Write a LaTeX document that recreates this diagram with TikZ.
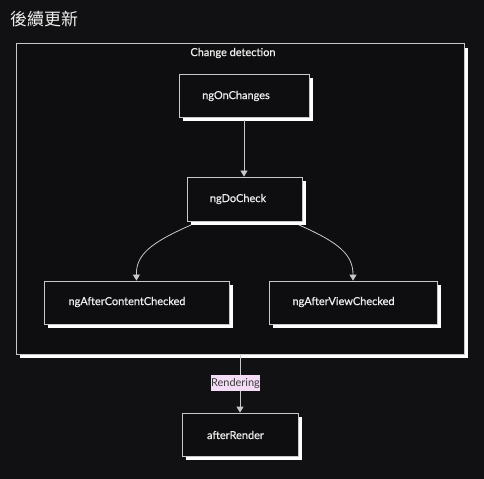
\documentclass[tikz,border=0pt]{standalone}
\usepackage{fontspec}
\setmainfont{Lato}
\newfontfamily\lblfont[FakeBold=0.6]{Lato}
\newfontfamily\cjkfont{Noto Sans CJK TC}
\usetikzlibrary{arrows.meta,shadows}
\definecolor{bgc}{RGB}{17,17,19}
\definecolor{boxfill}{RGB}{14,14,16}
\definecolor{edgec}{RGB}{200,200,200}
\definecolor{txt}{RGB}{238,238,238}
\definecolor{lblfill}{RGB}{244,220,247}
\definecolor{lbltxt}{RGB}{60,60,60}
\tikzset{
  box/.style={draw=edgec, line width=0.8bp, fill=boxfill, inner sep=0pt,
    drop shadow={shadow xshift=4bp, shadow yshift=-4bp, fill=white, opacity=1}},
  lbl/.style={text=txt, font=\lblfont\fontsize{11}{13}\selectfont, inner sep=0pt},
  conn/.style={draw=edgec, line width=0.8bp, -{Triangle[width=7bp,length=6bp]}},
}
\begin{document}
\begin{tikzpicture}[x=1bp,y=-1bp]
\fill[bgc] (0,0) rectangle (484,479);
\useasboundingbox (0,0) rectangle (484,479);
\node[text=txt, font=\cjkfont\fontsize{17}{20}\selectfont, anchor=west, inner sep=0pt] (title) at (10,19) {後續更新};
% cluster
\fill[white] (20,48) rectangle (468,358);
\draw[edgec, line width=1bp, fill=boxfill] (16,44) rectangle (464,354);
\node[lbl] (clbl) at (233,53) {Change detection};
% nodes
\node[box, minimum width=130bp, minimum height=43bp] (onc) at (244,95.5) {};
\node[lbl] at (236,96) {ngOnChanges};
\node[box, minimum width=115bp, minimum height=44bp] (dc) at (244.5,199) {};
\node[lbl] at (238,199) {ngDoCheck};
\node[box, minimum width=185bp, minimum height=43bp] (acc) at (136.5,302.5) {};
\node[lbl] at (127,302) {ngAfterContentChecked};
\node[box, minimum width=168bp, minimum height=43bp] (avc) at (353,302.5) {};
\node[lbl] at (343.5,302) {ngAfterViewChecked};
\node[box, minimum width=116bp, minimum height=43bp] (ar) at (240,434.5) {};
\node[lbl] at (235.5,435) {afterRender};
% edges
\coordinate (cb) at (240,354);
\draw[conn] (244,120) -- (onc.south |- dc.north);
\draw[conn] (191,225) .. controls (150,243) and (136,255) .. (acc.north);
\draw[conn] (299,225) .. controls (340,243) and (353,255) .. (avc.north);
\draw[conn] (cb) -- (ar.north);
\node[fill=lblfill, text=lbltxt, font=\fontsize{11}{13}\selectfont, inner xsep=0.5bp, inner ysep=3bp] (rl) at (235.5,383) {Rendering};
\end{tikzpicture}
\end{document}
